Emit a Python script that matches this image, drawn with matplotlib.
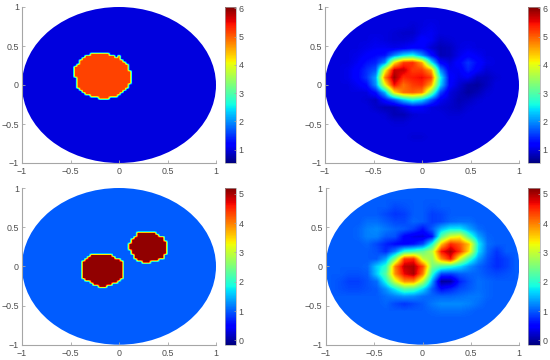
#!/usr/bin/env python3

import numpy as np
import matplotlib
matplotlib.use('Agg')
import matplotlib.pyplot as plt
from matplotlib.patches import Ellipse
from matplotlib.path import Path

plt.rcParams['font.family'] = ['Liberation Sans', 'DejaVu Sans']

# True conductivity: inclusion outlines (x, y) and levels
blob_top_x = [-0.30, -0.196, -0.127, -0.04, 0.0, 0.017, 0.096, 0.12, 0.13, 0.096, 0.06, 0.01, -0.076, -0.18, -0.247, -0.316, -0.42, -0.454, -0.464, -0.42, -0.368]
blob_top_y = [0.40, 0.42, 0.42, 0.37, 0.375, 0.33, 0.26, 0.175, 0.05, -0.017, -0.06, -0.124, -0.167, -0.19, -0.158, -0.137, -0.06, 0.047, 0.218, 0.30, 0.36]
blob_a_x = [-0.375, -0.316, -0.23, -0.19, -0.11, 0.027, 0.038, 0.058, 0.01, -0.168, -0.375]
blob_a_y = [0.072, 0.136, 0.17, 0.145, 0.162, 0.072, -0.01, -0.10, -0.183, -0.286, -0.162]
blob_b_x = [0.13, 0.21, 0.36, 0.45, 0.51, 0.51, 0.45, 0.285, 0.165, 0.113, 0.113]
blob_b_y = [0.35, 0.44, 0.448, 0.384, 0.29, 0.205, 0.094, 0.043, 0.094, 0.213, 0.30]
level_top = (1.0, 5.15)
level_bottom = (1.0, 5.1)

# Reconstructions, rows y = 1 ... -1, columns x = -1 ... 1, step 0.1
recon_top = [
    [1] * 21,
    [1] * 21,
    [1, 1, 1, 1, 1, 1, 1, 1, 1, .95, 1, 1.05, 1, 1, 1, 1, 1, 1, 1, 1, 1],
    [1, 1, 1, 1, 1, 1, 1, .95, .9, .9, 1.05, 1.1, 1, 1, 1, 1, 1, 1, 1, 1, 1],
    [1, 1, 1, 1, 1, 1.05, 1, .95, .95, 1.0, 1.2, 1.1, .9, .95, 1, 1, 1, 1, 1, 1, 1],
    [1, 1, 1, 1, 1.05, 1.1, 1.1, 1.05, 1.1, 1.2, 1.2, .95, .8, .85, 1.0, 1.05, 1, 1, 1, 1, 1],
    [1, 1, 1, 1.05, 1.15, 1.25, 1.3, 1.9, 2.4, 2.6, 2.0, 1.3, .8, .85, 1.05, 1.2, 1.1, 1, 1, 1, 1],
    [1, 1, 1, 1.1, 1.3, 1.4, 2.0, 4.2, 5.2, 5.3, 4.6, 2.6, 1.2, 1.0, 1.2, 1.5, 1.25, 1.05, 1, 1, 1],
    [1, 1, 1.05, 1.2, 1.45, 1.7, 4.0, 5.7, 5.7, 5.2, 5.2, 4.6, 2.0, 1.1, 1.1, 1.4, 1.15, .95, 1, 1, 1],
    [1, 1, 1.05, 1.2, 1.5, 2.1, 4.8, 5.9, 5.3, 5.4, 5.5, 5.2, 2.6, 1.2, 1.05, 1.1, .85, .85, .95, 1, 1],
    [1, 1, 1, 1.1, 1.25, 2.0, 4.0, 5.5, 4.9, 5.2, 5.3, 4.6, 2.4, 1.2, .95, .75, .7, .85, 1, 1, 1],
    [1, 1, 1, 1, 1, 1.3, 2.2, 4.2, 4.9, 5.0, 4.8, 3.3, 1.6, 1.0, .85, .7, .8, .95, 1, 1, 1],
    [1, 1, 1, 1, .95, .85, 1.3, 1.7, 2.3, 2.7, 2.4, 1.7, 1.1, .95, .8, .85, .95, 1, 1, 1, 1],
    [1, 1, 1, 1, 1, .9, .8, .8, 1.0, 1.2, 1.15, 1.0, .95, .9, .85, .95, 1, 1, 1, 1, 1],
    [1, 1, 1, 1, 1, 1, .95, .8, .8, .95, 1, 1, 1, .95, .95, 1, 1, 1, 1, 1, 1],
    [1, 1, 1, 1, 1, 1, 1, .95, .95, 1, 1, 1, 1, 1, 1, 1, 1, 1, 1, 1, 1],
    [1] * 21,
    [1, 1, 1, 1, 1, 1, 1, 1, 1, .95, .95, 1, 1, 1, 1, 1, 1, 1, 1, 1, 1],
    [1] * 21,
    [1] * 21,
    [1] * 21,
]
recon_bottom = [
    [1] * 21,
    [1] * 21,
    [1, 1, 1, 1, 1, 1, 1, .9, .95, 1, 1, .95, 1, 1, 1, 1, 1, 1, 1, 1, 1],
    [1, 1, 1, 1, 1, 1, .9, .8, .85, 1, 1, .85, .9, 1, 1, 1, 1, 1, 1, 1, 1],
    [1, 1, 1, 1, 1.1, 1.1, 1, .9, .9, 1.05, 1, .85, .9, 1.05, 1.1, 1.1, 1, 1, 1, 1, 1],
    [1, 1, 1, 1.05, 1.2, 1.25, 1.15, 1.05, 1, .85, .6, 1.0, 1.5, 1.8, 1.8, 1.4, 1.1, 1, 1, 1, 1],
    [1, 1, 1, 1.05, 1.2, 1.2, 1.0, .95, .5, .35, .3, .6, 2.3, 3.1, 3.3, 2.2, 1.4, 1.05, 1, 1, 1],
    [1, 1, 1, 1, 1.05, .9, .7, .55, .5, .6, .9, 1.9, 3.6, 4.5, 4.2, 3.6, 1.8, 1.1, 1.0, 1, 1],
    [1, 1, 1, 1, 1, .95, .75, 1.2, 2.0, 2.2, 2.4, 2.9, 4.6, 5.0, 4.4, 3.4, 1.7, 1.05, .8, 1, 1],
    [1, 1, 1, 1, 1, 1, 1.4, 2.6, 4.4, 4.5, 3.0, 2.7, 3.9, 4.6, 3.1, 2.1, 1.35, .95, .75, .85, 1],
    [1, 1, 1, 1, 1.05, 1.6, 2.0, 4.0, 4.9, 5.0, 4.3, 2.5, 2.2, 2.0, 1.7, 1.3, 1.05, .9, .75, .85, 1],
    [1, 1, .95, .95, 1.0, 1.6, 2.3, 3.9, 4.7, 5.0, 4.0, 2.0, .9, .85, 1.0, 1.05, 1.05, .95, .9, .95, 1],
    [1, .95, .85, .85, .95, 1.1, 1.9, 3.1, 3.9, 3.9, 2.9, 1.4, 0.0, .05, .7, .95, 1.1, 1.05, 1, 1, 1],
    [1, .95, .9, .9, .95, 1, 1.3, 1.8, 2.3, 2.2, 1.7, 1.0, .55, .7, .9, 1.0, 1.1, 1.05, 1, 1, 1],
    [1, 1, 1, 1, 1, 1, 1.1, 1.2, 1.3, 1.25, 1.1, 1.05, 1.05, 1.05, 1.1, 1.15, 1.15, 1.05, 1, 1, 1],
    [1, 1, 1, 1, 1, 1, 1.05, .9, .8, .9, 1, 1.15, 1.25, 1.25, 1.25, 1.2, 1.1, 1, 1, 1, 1],
    [1, 1, 1, 1, 1, 1, 1, 1, 1, 1, 1, 1.05, 1.1, 1.1, 1.1, 1.05, 1, 1, 1, 1, 1],
    [1] * 21,
    [1] * 21,
    [1] * 21,
    [1] * 21,
]

# Colour ranges and ticks
clim_top = (0.53, 6.05)
clim_bottom = (-0.15, 5.2)
cticks_top = [1, 2, 3, 4, 5, 6]
cticks_bottom = [0, 1, 2, 3, 4, 5]
ticks = [-1, -0.5, 0, 0.5, 1]
ticklabels = ['\u22121', '\u22120.5', '0', '0.5', '1']

TEXT = '#4d4d4d'
AXIS = '#a6a6a6'
W, H = 550.0, 360.0


def rasterize(outlines, levels, n=71):
    xs = np.linspace(-1, 1, n)
    gx, gy = np.meshgrid(xs, xs[::-1])
    pts = np.column_stack([gx.ravel(), gy.ravel()])
    z = np.full(gx.shape, float(levels[0]))
    for ox, oy in outlines:
        inside = Path(np.column_stack([ox, oy])).contains_points(pts).reshape(gx.shape)
        z[inside] = levels[1]
    return z


def panel(box, cbox, z, clim, cticks):
    x0, y0, x1, y1 = box
    ax = fig.add_axes([x0 / W, 1 - y1 / H, (x1 - x0) / W, (y1 - y0) / H])
    # bilinear on the data, so edges pass through the colormap like the original mesh
    im = ax.imshow(z, extent=(-1, 1, -1, 1), aspect='auto', cmap='jet', vmin=clim[0], vmax=clim[1],
                   interpolation='bilinear', interpolation_stage='data')
    im.set_clip_path(Ellipse((0, 0), 2, 2, transform=ax.transData))
    ax.set_xlim(-1, 1)
    ax.set_ylim(-1, 1)
    ax.set_xticks(ticks)
    ax.set_xticklabels(ticklabels)
    ax.set_yticks(ticks)
    ax.set_yticklabels(ticklabels)
    ax.spines['top'].set_visible(False)
    ax.spines['right'].set_visible(False)
    ax.spines['left'].set_color(AXIS)
    ax.spines['bottom'].set_color(AXIS)
    ax.tick_params(direction='in', length=2, width=0.6, color=AXIS, labelcolor=TEXT, labelsize=6.4)
    ax.tick_params(axis='x', pad=3)
    ax.tick_params(axis='y', pad=2.2)

    x0, y0, x1, y1 = cbox
    cax = fig.add_axes([x0 / W, 1 - y1 / H, (x1 - x0) / W, (y1 - y0) / H])
    cb = fig.colorbar(im, cax=cax, ticks=cticks)
    cb.outline.set_edgecolor(AXIS)
    cb.outline.set_linewidth(0.5)
    cax.tick_params(direction='in', length=1.5, width=0.5, color=AXIS, labelcolor=TEXT,
                    labelsize=6.4, pad=2)
    return ax


fig = plt.figure(figsize=(5.5, 3.6), dpi=100)

z = rasterize([(blob_top_x, blob_top_y)], level_top)
panel((22, 7, 216, 163), (225, 7, 236, 163), z, clim_top, cticks_top)

z = rasterize([(blob_a_x, blob_a_y), (blob_b_x, blob_b_y)], level_bottom)
panel((22, 188, 216, 344.7), (225, 188, 236, 344.7), z, clim_bottom, cticks_bottom)

panel((325, 7, 519, 163), (527.5, 7, 539.5, 163), np.array(recon_top), clim_top, cticks_top)
panel((325.7, 188, 519.3, 344.7), (528, 188, 540, 344.7), np.array(recon_bottom), clim_bottom, cticks_bottom)

fig.savefig('out.png', dpi=100)
